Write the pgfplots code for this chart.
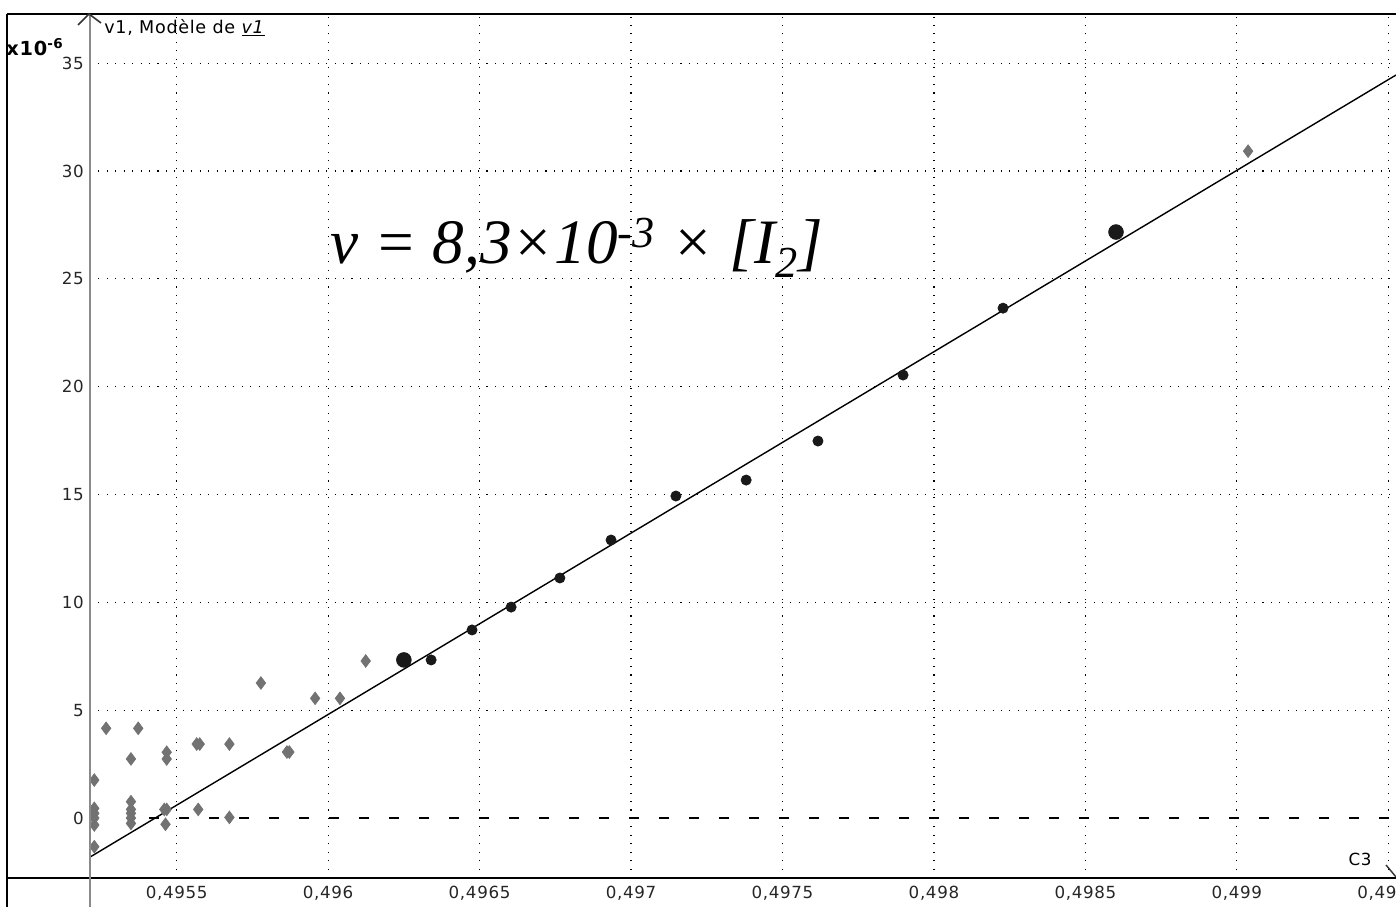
\documentclass[border=0pt]{standalone}
\usepackage{pgfplots}
\pgfplotsset{compat=1.18}
\usepackage{fontspec}
\setmainfont[LetterSpace=4]{DejaVu Sans}
\newfontfamily\hand{Liberation Serif}
\definecolor{ptgray}{HTML}{727272}
\definecolor{axgray}{HTML}{8A8A8A}
\begin{document}
\begin{tikzpicture}
\begin{axis}[
  at={(0,0)}, anchor=south west,
  scale only axis,
  width=26.12cm, height=17.28cm,
  xmin=0.4952138, xmax=0.4995254,
  ymin=-2.78, ymax=37.28,
  axis line style={draw=none},
  major tick length=0pt,
  xtick={0.4955,0.496,0.4965,0.497,0.4975,0.498,0.4985,0.499,0.4995},
  xticklabels={0{,}4955,0{,}496,0{,}4965,0{,}497,0{,}4975,0{,}498,0{,}4985,0{,}499,0{,}4995},
  ytick={5,10,15,20,25,30,35},
  yticklabels={5,10,15,20,25,30,35},
  extra y ticks={0},
  extra y tick labels={0},
  extra y tick style={grid=none},
  scaled ticks=false,
  ticklabel style={font=\fontsize{9.5}{11}\selectfont, text=black!85},
  xticklabel style={yshift=-1pt},
  grid=major,
  major grid style={black, line width=0.7pt, dash pattern=on 0.6pt off 4.2pt},
  clip=false,
]
% zero line (dashed)
\addplot[black, line width=1pt, dash pattern=on 0.2cm off 0.4cm] coordinates {(0.49541,0) (0.4995254,0)};
% model line
\addplot[black, line width=0.8pt] coordinates {(0.4952138,-1.81) (0.4995254,34.45)};
% gray (unselected) points
\addplot[only marks, mark=diamond*, mark size=3.6pt, color=ptgray] coordinates {
(0.495228,1.76) (0.495267,4.16) (0.495349,2.74) (0.495373,4.16)
(0.495467,3.05) (0.495467,2.74) (0.495566,3.43) (0.495576,3.43) (0.495674,3.43)
(0.495778,6.26) (0.495864,3.06) (0.495872,3.06) (0.495957,5.55) (0.496039,5.55) (0.496124,7.28)
(0.495228,0.45) (0.495228,0.22) (0.495228,0) (0.495228,-0.32) (0.495228,-1.33)
(0.495349,0.76) (0.495349,0.40) (0.495349,0.22) (0.495349,0) (0.495349,-0.25)
(0.495459,0.40) (0.495467,0.40) (0.495463,-0.29) (0.495571,0.40) (0.495674,0.03)
(0.499037,30.92)
};
% black (selected) points
\addplot[only marks, mark=*, mark size=2.9pt, color=black!90] coordinates {
(0.496340,7.33) (0.496475,8.72) (0.496604,9.78) (0.496765,11.13)
(0.496934,12.89) (0.497148,14.93) (0.497380,15.67) (0.497617,17.48)
(0.497898,20.54) (0.498228,23.64)
};
\addplot[only marks, mark=*, mark size=4.2pt, color=black!90] coordinates {
(0.496250,7.33) (0.498601,27.17)
};
\end{axis}
% frame and axes
\draw[black, line width=1.1pt] (-1.66,17.28) -- (26.12,17.28);
\draw[black, line width=1.1pt] (-1.66,17.28) -- (-1.66,-0.7);
\draw[black, line width=1.3pt] (-1.66,0) -- (26.2,0);
\draw[axgray, line width=1.4pt] (0,17.28) -- (0,-0.7);
\draw[black!80, line width=0.9pt] (-0.24,17.06) -- (-0.02,17.28) -- (0.22,17.1);
% labels
\node[anchor=west, font=\fontsize{11}{12}\selectfont\bfseries, inner sep=0pt] at (-1.68,16.62) {x10\textsuperscript{-6}};
\node[anchor=west, font=\fontsize{10}{12}\selectfont, inner sep=0pt] at (0.28,17.0) {v1, Modèle de \underline{\textit{v1}}};
\node[font=\fontsize{9.5}{11}\selectfont] at (25.4,0.38) {C3};
\draw[black!80, line width=0.8pt] (25.92,0.26) -- (26.12,0.02);
% handwritten annotation
\node[anchor=west, font=\hand\fontsize{36}{40}\selectfont\itshape, inner sep=0pt] at (4.8,12.6) {v = 8,3×10\textsuperscript{-3} × [I\textsubscript{2}]};
\pgfresetboundingbox
\path (-1.8,-0.58) rectangle (26.12,17.56);
\end{tikzpicture}
\end{document}
